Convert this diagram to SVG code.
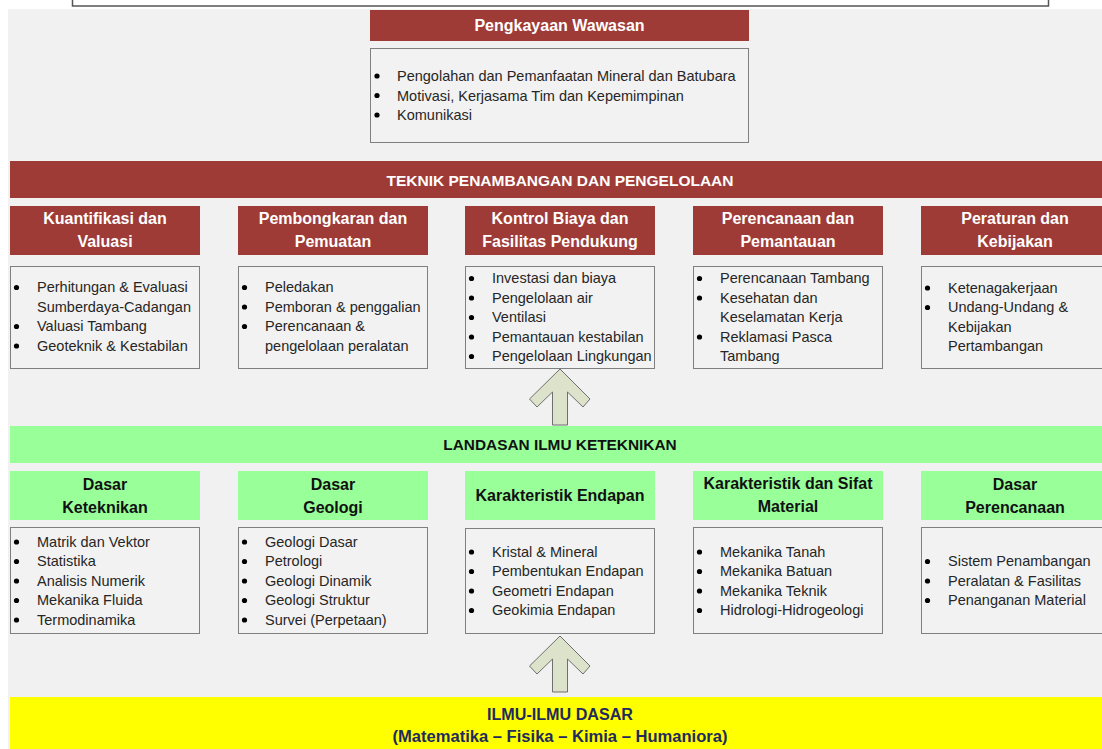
<svg xmlns="http://www.w3.org/2000/svg" width="1102" height="749" viewBox="0 0 1102 749">
  <style>
    .hdr-red { fill: #9e3b37; }
    .hdr-green { fill: #99ff99; }
    .body { fill: #f2f2f2; stroke: #7f7f7f; stroke-width: 1; }
    .ttl { font-family: "Liberation Sans", Arial, sans-serif; font-weight: bold; font-size: 16px; text-anchor: middle; }
    .ttl-w { fill: #ffffff; }
    .ttl-k { fill: #111111; }
    .item { font-family: "Liberation Sans", Arial, sans-serif; font-size: 14.5px; fill: #262626; }
    .dot { fill: #000000; }
    .up { fill: #dde2cb; stroke: #6f6f6f; stroke-width: 1; }
  </style>

  <!-- page -->
  <rect x="0" y="0" width="1102" height="749" fill="#ffffff"/>
  <rect x="72.5" y="-6" width="976" height="12" fill="#ffffff" stroke="#555555" stroke-width="1.5"/>
  <rect x="8" y="9" width="1094" height="740" fill="#f1f1f1"/>

  <!-- Pengkayaan Wawasan -->
  <g id="pengkayaan">
    <rect class="hdr-red" x="370" y="10" width="379" height="31"/>
    <text class="ttl ttl-w" x="559.5" y="31">Pengkayaan Wawasan</text>
    <rect class="body" x="370.5" y="48.5" width="378" height="94"/>
    <circle class="dot" cx="377" cy="76" r="2.6"/>
    <circle class="dot" cx="377" cy="95.5" r="2.6"/>
    <circle class="dot" cx="377" cy="115" r="2.6"/>
    <text class="item" x="397" y="81">Pengolahan dan Pemanfaatan Mineral dan Batubara</text>
    <text class="item" x="397" y="100.5">Motivasi, Kerjasama Tim dan Kepemimpinan</text>
    <text class="item" x="397" y="120">Komunikasi</text>
  </g>

  <!-- Teknik Penambangan dan Pengelolaan -->
  <g id="teknik-banner">
    <rect class="hdr-red" x="10" y="161" width="1092" height="37"/>
    <text class="ttl ttl-w" x="560" y="185.5" style="font-size:15.5px">TEKNIK PENAMBANGAN DAN PENGELOLAAN</text>
  </g>

  <g id="kuantifikasi">
    <rect class="hdr-red" x="10" y="206" width="190" height="49"/>
    <text class="ttl ttl-w" x="105" y="224">Kuantifikasi dan</text>
    <text class="ttl ttl-w" x="105" y="247">Valuasi</text>
    <rect class="body" x="10.5" y="266.5" width="189" height="102"/>
    <circle class="dot" cx="16.5" cy="287.5" r="2.6"/>
    <circle class="dot" cx="16.5" cy="326.5" r="2.6"/>
    <circle class="dot" cx="16.5" cy="346" r="2.6"/>
    <text class="item" x="37" y="292">Perhitungan &amp; Evaluasi</text>
    <text class="item" x="37" y="311.5">Sumberdaya-Cadangan</text>
    <text class="item" x="37" y="331">Valuasi Tambang</text>
    <text class="item" x="37" y="350.5">Geoteknik &amp; Kestabilan</text>
  </g>

  <g id="pembongkaran">
    <rect class="hdr-red" x="238" y="206" width="190" height="49"/>
    <text class="ttl ttl-w" x="333" y="224">Pembongkaran dan</text>
    <text class="ttl ttl-w" x="333" y="247">Pemuatan</text>
    <rect class="body" x="238.5" y="266.5" width="189" height="102"/>
    <circle class="dot" cx="244.5" cy="287.5" r="2.6"/>
    <circle class="dot" cx="244.5" cy="307" r="2.6"/>
    <circle class="dot" cx="244.5" cy="326.5" r="2.6"/>
    <text class="item" x="265" y="292">Peledakan</text>
    <text class="item" x="265" y="311.5">Pemboran &amp; penggalian</text>
    <text class="item" x="265" y="331">Perencanaan &amp;</text>
    <text class="item" x="265" y="350.5">pengelolaan peralatan</text>
  </g>

  <g id="kontrol-biaya">
    <rect class="hdr-red" x="465" y="206" width="190" height="49"/>
    <text class="ttl ttl-w" x="560" y="224">Kontrol Biaya dan</text>
    <text class="ttl ttl-w" x="560" y="247">Fasilitas Pendukung</text>
    <rect class="body" x="465.5" y="266.5" width="189" height="102"/>
    <circle class="dot" cx="471.5" cy="278.5" r="2.6"/>
    <circle class="dot" cx="471.5" cy="298" r="2.6"/>
    <circle class="dot" cx="471.5" cy="317.5" r="2.6"/>
    <circle class="dot" cx="471.5" cy="337" r="2.6"/>
    <circle class="dot" cx="471.5" cy="356.5" r="2.6"/>
    <text class="item" x="492" y="283">Investasi dan biaya</text>
    <text class="item" x="492" y="302.5">Pengelolaan air</text>
    <text class="item" x="492" y="322">Ventilasi</text>
    <text class="item" x="492" y="341.5">Pemantauan kestabilan</text>
    <text class="item" x="492" y="361">Pengelolaan Lingkungan</text>
  </g>

  <g id="perencanaan-pemantauan">
    <rect class="hdr-red" x="693" y="206" width="190" height="49"/>
    <text class="ttl ttl-w" x="788" y="224">Perencanaan dan</text>
    <text class="ttl ttl-w" x="788" y="247">Pemantauan</text>
    <rect class="body" x="693.5" y="266.5" width="189" height="102"/>
    <circle class="dot" cx="699.5" cy="278.5" r="2.6"/>
    <circle class="dot" cx="699.5" cy="298" r="2.6"/>
    <circle class="dot" cx="699.5" cy="337" r="2.6"/>
    <text class="item" x="720" y="283">Perencanaan Tambang</text>
    <text class="item" x="720" y="302.5">Kesehatan dan</text>
    <text class="item" x="720" y="322">Keselamatan Kerja</text>
    <text class="item" x="720" y="341.5">Reklamasi Pasca</text>
    <text class="item" x="720" y="361">Tambang</text>
  </g>

  <g id="peraturan">
    <rect class="hdr-red" x="921" y="206" width="190" height="49"/>
    <text class="ttl ttl-w" x="1015" y="224">Peraturan dan</text>
    <text class="ttl ttl-w" x="1015" y="247">Kebijakan</text>
    <rect class="body" x="921.5" y="266.5" width="189" height="102"/>
    <circle class="dot" cx="927.5" cy="288" r="2.6"/>
    <circle class="dot" cx="927.5" cy="307.5" r="2.6"/>
    <text class="item" x="948" y="292.5">Ketenagakerjaan</text>
    <text class="item" x="948" y="312">Undang-Undang &amp;</text>
    <text class="item" x="948" y="331.5">Kebijakan</text>
    <text class="item" x="948" y="351">Pertambangan</text>
  </g>

  <!-- Landasan Ilmu Keteknikan -->
  <g id="landasan-banner">
    <rect class="hdr-green" x="10" y="426" width="1092" height="37"/>
    <text class="ttl ttl-k" x="560" y="450" style="font-size:15.4px">LANDASAN ILMU KETEKNIKAN</text>
  </g>

  <g id="dasar-keteknikan">
    <rect class="hdr-green" x="10" y="471" width="190" height="49"/>
    <text class="ttl ttl-k" x="105" y="490">Dasar</text>
    <text class="ttl ttl-k" x="105" y="513">Keteknikan</text>
    <rect class="body" x="10.5" y="527.5" width="189" height="106"/>
    <circle class="dot" cx="16.5" cy="542" r="2.6"/>
    <circle class="dot" cx="16.5" cy="561.5" r="2.6"/>
    <circle class="dot" cx="16.5" cy="581" r="2.6"/>
    <circle class="dot" cx="16.5" cy="600.5" r="2.6"/>
    <circle class="dot" cx="16.5" cy="620" r="2.6"/>
    <text class="item" x="37" y="546.5">Matrik dan Vektor</text>
    <text class="item" x="37" y="566">Statistika</text>
    <text class="item" x="37" y="585.5">Analisis Numerik</text>
    <text class="item" x="37" y="605">Mekanika Fluida</text>
    <text class="item" x="37" y="624.5">Termodinamika</text>
  </g>

  <g id="dasar-geologi">
    <rect class="hdr-green" x="238" y="471" width="190" height="49"/>
    <text class="ttl ttl-k" x="333" y="490">Dasar</text>
    <text class="ttl ttl-k" x="333" y="513">Geologi</text>
    <rect class="body" x="238.5" y="527.5" width="189" height="106"/>
    <circle class="dot" cx="244.5" cy="542" r="2.6"/>
    <circle class="dot" cx="244.5" cy="561.5" r="2.6"/>
    <circle class="dot" cx="244.5" cy="581" r="2.6"/>
    <circle class="dot" cx="244.5" cy="600.5" r="2.6"/>
    <circle class="dot" cx="244.5" cy="620" r="2.6"/>
    <text class="item" x="265" y="546.5">Geologi Dasar</text>
    <text class="item" x="265" y="566">Petrologi</text>
    <text class="item" x="265" y="585.5">Geologi Dinamik</text>
    <text class="item" x="265" y="605">Geologi Struktur</text>
    <text class="item" x="265" y="624.5">Survei (Perpetaan)</text>
  </g>

  <g id="karakteristik-endapan">
    <rect class="hdr-green" x="465" y="471" width="190" height="49"/>
    <text class="ttl ttl-k" x="560" y="501">Karakteristik Endapan</text>
    <rect class="body" x="465.5" y="528.5" width="189" height="105"/>
    <circle class="dot" cx="471.5" cy="552" r="2.6"/>
    <circle class="dot" cx="471.5" cy="571.5" r="2.6"/>
    <circle class="dot" cx="471.5" cy="591" r="2.6"/>
    <circle class="dot" cx="471.5" cy="610.5" r="2.6"/>
    <text class="item" x="492" y="556.5">Kristal &amp; Mineral</text>
    <text class="item" x="492" y="576">Pembentukan Endapan</text>
    <text class="item" x="492" y="595.5">Geometri Endapan</text>
    <text class="item" x="492" y="615">Geokimia Endapan</text>
  </g>

  <g id="karakteristik-material">
    <rect class="hdr-green" x="693" y="471" width="190" height="49"/>
    <text class="ttl ttl-k" x="788" y="489">Karakteristik dan Sifat</text>
    <text class="ttl ttl-k" x="788" y="512">Material</text>
    <rect class="body" x="693.5" y="527.5" width="189" height="106"/>
    <circle class="dot" cx="699.5" cy="552" r="2.6"/>
    <circle class="dot" cx="699.5" cy="571.5" r="2.6"/>
    <circle class="dot" cx="699.5" cy="591" r="2.6"/>
    <circle class="dot" cx="699.5" cy="610.5" r="2.6"/>
    <text class="item" x="720" y="556.5">Mekanika Tanah</text>
    <text class="item" x="720" y="576">Mekanika Batuan</text>
    <text class="item" x="720" y="595.5">Mekanika Teknik</text>
    <text class="item" x="720" y="615">Hidrologi-Hidrogeologi</text>
  </g>

  <g id="dasar-perencanaan">
    <rect class="hdr-green" x="921" y="471" width="190" height="49"/>
    <text class="ttl ttl-k" x="1015" y="490">Dasar</text>
    <text class="ttl ttl-k" x="1015" y="513">Perencanaan</text>
    <rect class="body" x="921.5" y="527.5" width="189" height="106"/>
    <circle class="dot" cx="927.5" cy="561.5" r="2.6"/>
    <circle class="dot" cx="927.5" cy="581" r="2.6"/>
    <circle class="dot" cx="927.5" cy="600.5" r="2.6"/>
    <text class="item" x="948" y="566">Sistem Penambangan</text>
    <text class="item" x="948" y="585.5">Peralatan &amp; Fasilitas</text>
    <text class="item" x="948" y="605">Penanganan Material</text>
  </g>

  <!-- Ilmu-ilmu dasar -->
  <g id="ilmu-dasar">
    <rect x="10" y="697" width="1092" height="52" fill="#ffff00"/>
    <text class="ttl" x="560" y="720" fill="#1f2a5e" textLength="146" lengthAdjust="spacingAndGlyphs">ILMU-ILMU DASAR</text>
    <text class="ttl" x="560" y="742" fill="#1f2a5e" textLength="335" lengthAdjust="spacingAndGlyphs">(Matematika – Fisika – Kimia – Humaniora)</text>
  </g>

  <!-- connectors: block up-arrows -->
  <g id="connectors">
    <polygon class="up" points="560,369 590,399 583,407 567.5,392 567.5,425 552.5,425 552.5,392 537,407 529.5,399"/>
    <polygon class="up" points="560,636 590,666 583,674 567.5,659 567.5,692 552.5,692 552.5,659 537,674 529.5,666"/>
  </g>
</svg>
